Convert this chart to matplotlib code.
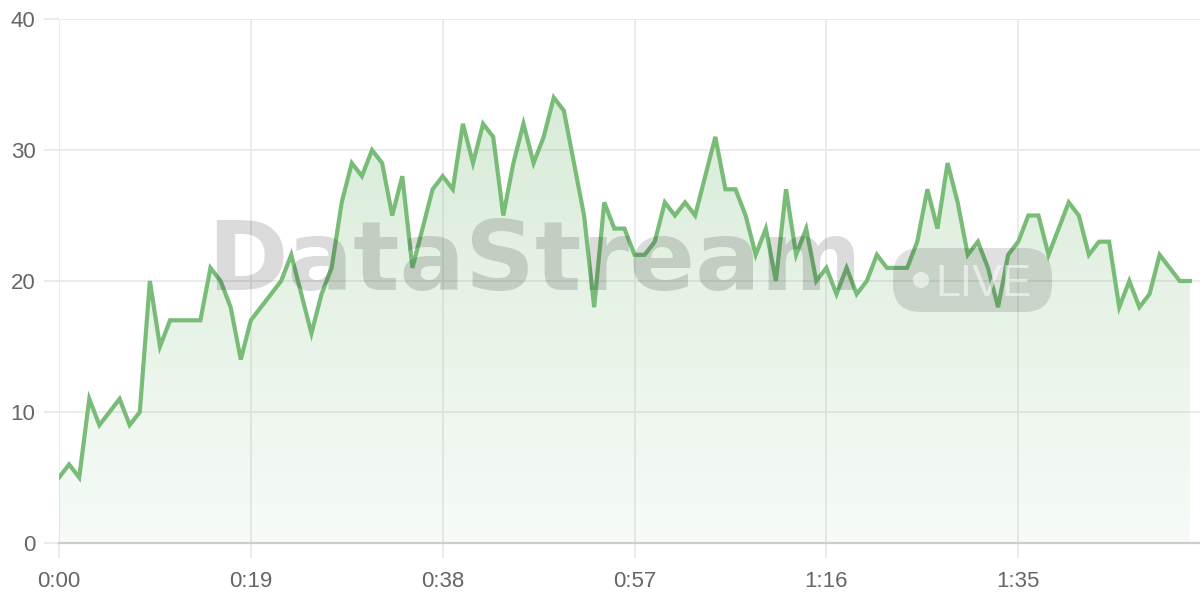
import numpy as np
import matplotlib
matplotlib.use("Agg")
from matplotlib import pyplot as plt
from matplotlib.patches import FancyBboxPatch, Circle, Polygon
from matplotlib.colors import to_rgb
from matplotlib.transforms import IdentityTransform

# one value per second, 0:00 .. 1:52
values = [5, 6, 5, 11, 9, 10, 11, 9, 10, 20,
          15, 17, 17, 17, 17, 21, 20, 18, 14, 17,
          18, 19, 20, 22, 19, 16, 19, 21, 26, 29,
          28, 30, 29, 25, 28, 21, 24, 27, 28, 27,
          32, 29, 32, 31, 25, 29, 32, 29, 31, 34,
          33, 29, 25, 18, 26, 24, 24, 22, 22, 23,
          26, 25, 26, 25, 28, 31, 27, 27, 25, 22,
          24, 20, 27, 22, 24, 20, 21, 19, 21, 19,
          20, 22, 21, 21, 21, 23, 27, 24, 29, 26,
          22, 23, 21, 18, 22, 23, 25, 25, 22, 24,
          26, 25, 22, 23, 23, 18, 20, 18, 19, 22,
          21, 20, 20]
seconds = list(range(len(values)))
xticks = [0, 19, 38, 57, 76, 95]
yticks = [0, 10, 20, 30, 40]

green = "#78bc78"
grid_col = "#ebebeb"
label_col = "#666666"

plt.rcParams["font.family"] = ["Liberation Sans", "DejaVu Sans"]

fig = plt.figure(figsize=(12, 6), dpi=100)
ax = fig.add_axes([59 / 1200, 57 / 600, 1141 / 1200, 524 / 600])

ax.set_xlim(0, 113)
ax.set_ylim(0, 40)

# gradient fill under the line
x = np.array(seconds)
y = np.array(values)
grad = np.zeros((100, 1, 4))
grad[:, 0, :3] = to_rgb(green)
grad[:, 0, 3] = np.linspace(0.06, 0.30, 100)
img = ax.imshow(grad, aspect="auto", origin="lower",
                extent=[0, x[-1], 0, 36], zorder=1)
poly = Polygon(np.column_stack([np.r_[x, x[-1], x[0]], np.r_[y, 0, 0]]),
               closed=True, facecolor="none", edgecolor="none")
ax.add_patch(poly)
img.set_clip_path(poly)

ax.plot(x, y, color=green, lw=3, zorder=4, solid_joinstyle="miter")

# watermark
px = IdentityTransform()
wm = fig.text(207 / 1200, 1 - 290 / 600, "DataStream", family=["DejaVu Sans"],
              fontsize=64, fontweight="bold", color="black", alpha=0.14,
              ha="left", va="baseline", zorder=3)
w = wm.get_window_extent(fig.canvas.get_renderer()).width
wm.set_fontsize(64 * 655 / w)

pill = FancyBboxPatch((893, 600 - 312), 1052 - 893, 64,
                      boxstyle="round,pad=0,rounding_size=28",
                      transform=px, facecolor="black", alpha=0.12,
                      edgecolor="none", zorder=3)
fig.patches.append(pill)
fig.patches.append(Circle((921, 600 - 280), 8, transform=px,
                          facecolor="white", alpha=0.55, edgecolor="none", zorder=3))
fig.text(935 / 1200, 1 - 296 / 600, "LIVE", fontsize=32, color="white",
         alpha=0.55, ha="left", va="baseline", zorder=3)

# axes styling
for s in ["top", "right", "left"]:
    ax.spines[s].set_visible(False)
ax.spines["bottom"].set_color("#cccccc")
ax.spines["bottom"].set_linewidth(1.6)
ax.spines["bottom"].set_zorder(5)

ax.set_xticks(xticks)
ax.set_xticklabels(["%d:%02d" % (t // 60, t % 60) for t in xticks])
ax.set_yticks(yticks)
ax.grid(True, color=grid_col, lw=1.4, zorder=0)
ax.set_axisbelow(True)
ax.tick_params(axis="both", colors=grid_col, length=11, width=1.4,
               labelcolor=label_col, labelsize=16)
ax.tick_params(axis="x", pad=9)
ax.tick_params(axis="y", pad=6)

fig.savefig("out.png", dpi=100)
